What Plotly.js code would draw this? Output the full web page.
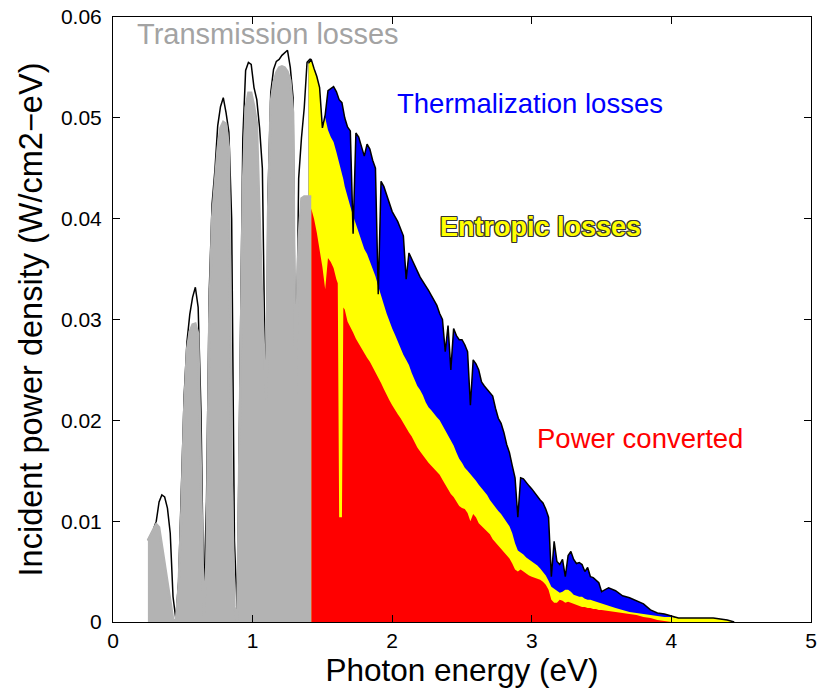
<!DOCTYPE html>
<html><head><meta charset="utf-8">
<script src="https://cdn.plot.ly/plotly-3.0.1.min.js"></script>
<style>html,body{margin:0;padding:0;background:#fff}#chart{width:822px;height:696px}</style>
</head><body><div id="chart"></div>
<script>
// Sub-gap part of the spectrum (photon energy, eV)
const eSub = [0.25,0.27,0.29,0.31,0.33,0.35,0.37,0.39,0.41,0.43,
  0.45,0.47,0.49,0.51,0.53,0.55,0.57,0.59,0.61,0.63,
  0.65,0.67,0.69,0.71,0.73,0.75,0.77,0.79,0.81,0.83,
  0.85,0.87,0.89,0.91,0.93,0.95,0.97,0.99,1.01,1.03,
  1.05,1.07,1.09,1.10,1.11,1.13,1.15,1.17,1.19,1.21,
  1.23,1.25,1.27,1.29,1.30,1.31,1.32,1.33,1.35,1.37,
  1.39,1.41,1.42];
// Incident spectrum (W/cm2-eV) below the gap
const incidentSub = [0.0081,0.0087,0.0092,0.0100,0.0119,0.0126,0.0124,0.0113,0.0088,0.0025,
  0.0003,0.0040,0.0125,0.0225,0.0278,0.0305,0.0322,0.0332,0.0312,0.0210,
  0.0020,0.0120,0.0330,0.0415,0.0448,0.0492,0.0511,0.0520,0.0505,0.0486,
  0.0400,0.0080,0.0010,0.0250,0.0480,0.0547,0.0555,0.0553,0.0530,0.0518,
  0.0490,0.0450,0.0250,0.0225,0.0420,0.0525,0.0548,0.0556,0.0558,0.0562,
  0.0565,0.0567,0.0550,0.0520,0.0350,0.0230,0.0330,0.0440,0.0480,0.0510,
  0.0555,0.0558,0.0558];
// Transmission losses (grey area)
const transmission = [0.0081,0.0087,0.0092,0.0097,0.0094,0.0076,0.0058,0.0040,0.0021,0.0003,
  0.0000,0.0035,0.0110,0.0210,0.0270,0.0288,0.0295,0.0296,0.0286,0.0140,
  0.0005,0.0060,0.0300,0.0400,0.0437,0.0470,0.0490,0.0496,0.0494,0.0470,
  0.0140,0.0015,0.0000,0.0200,0.0430,0.0510,0.0525,0.0525,0.0512,0.0495,
  0.0400,0.0310,0.0240,0.0220,0.0400,0.0515,0.0535,0.0545,0.0550,0.0551,
  0.0550,0.0546,0.0537,0.0505,0.0330,0.0225,0.0320,0.0380,0.0420,0.0422,
  0.0422,0.0422,0.0422];

// Above-gap part
const eAbove = [1.40,1.42,1.44,1.46,1.48,1.50,1.52,1.54,1.56,1.58,
  1.60,1.61,1.62,1.64,1.65,1.66,1.68,1.70,1.72,1.74,1.76,1.78,
  1.80,1.82,1.84,1.86,1.88,1.90,1.92,1.94,1.96,1.98,
  2.00,2.02,2.04,2.06,2.08,2.10,2.12,2.14,2.16,2.18,
  2.20,2.22,2.24,2.26,2.28,2.30,2.32,2.34,2.36,2.38,
  2.40,2.42,2.44,2.46,2.48,2.50,2.52,2.54,2.56,2.58,
  2.60,2.62,2.64,2.66,2.68,2.70,2.72,2.74,2.76,2.78,
  2.80,2.82,2.84,2.86,2.88,2.90,2.92,2.94,2.96,2.98,
  3.00,3.02,3.04,3.06,3.08,3.10,3.12,3.14,3.16,3.18,
  3.20,3.22,3.24,3.26,3.28,3.30,3.32,3.34,3.36,3.38,
  3.40,3.42,3.44,3.46,3.48,3.50,3.55,3.60,3.65,3.70,
  3.75,3.80,3.85,3.90,3.95,4.00,4.05,4.10,4.15,4.20,
  4.25,4.30,4.35,4.40,4.45];
const incidentAbove = [0.0554,0.0558,0.0549,0.0541,0.0530,0.0490,0.0503,0.0527,0.0529,0.0531,
  0.0526,0.0522,0.0518,0.0515,0.0508,0.0500,0.0491,0.0487,0.0385,0.0485,0.0481,0.0472,
  0.0462,0.0474,0.0469,0.0458,0.0450,0.0325,0.0437,0.0432,0.0423,0.0415,
  0.0407,0.0402,0.0397,0.0390,0.0383,0.0340,0.0366,0.0360,0.0353,0.0348,
  0.0342,0.0338,0.0333,0.0329,0.0324,0.0319,0.0314,0.0306,0.0300,0.0268,
  0.0294,0.0250,0.0291,0.0284,0.0280,0.0280,0.0275,0.0268,0.0215,0.0260,
  0.0256,0.0250,0.0238,0.0234,0.0231,0.0228,0.0224,0.0212,0.0202,0.0197,
  0.0188,0.0176,0.0168,0.0155,0.0143,0.0104,0.0143,0.0142,0.0138,0.0135,
  0.0132,0.0128,0.0124,0.0121,0.0118,0.0112,0.0104,0.0045,0.0080,0.0060,
  0.0057,0.0062,0.0045,0.0066,0.0070,0.0062,0.0058,0.0059,0.0057,0.0050,
  0.0054,0.0045,0.0044,0.0041,0.0039,0.0030,0.0034,0.0031,0.0026,0.0024,
  0.0021,0.0018,0.0012,0.0009,0.0008,0.0006,0.0004,0.0004,0.0004,0.0004,
  0.0004,0.0004,0.0003,0.0002,0.0000];
// Upper edge of the entropic-loss band (converted + entropic)
const entropicTop = [0.0554,0.0558,0.0549,0.0541,0.0530,0.0490,0.0500,0.0488,0.0481,0.0476,
  0.0466,0.0461,0.0456,0.0446,0.0439,0.0432,0.0421,0.0412,0.0403,0.0395,0.0386,0.0377,
  0.0370,0.0365,0.0358,0.0351,0.0343,0.0333,0.0323,0.0315,0.0306,0.0298,
  0.0291,0.0285,0.0278,0.0271,0.0265,0.0260,0.0255,0.0247,0.0240,0.0234,
  0.0230,0.0225,0.0218,0.0213,0.0210,0.0206,0.0203,0.0200,0.0195,0.0190,
  0.0185,0.0180,0.0175,0.0168,0.0162,0.0158,0.0153,0.0150,0.0147,0.0143,
  0.0140,0.0136,0.0133,0.0130,0.0126,0.0121,0.0117,0.0114,0.0110,0.0107,
  0.0103,0.0100,0.0095,0.0088,0.0078,0.0071,0.0069,0.0067,0.0064,0.0062,
  0.0060,0.0058,0.0056,0.0053,0.0050,0.0046,0.0041,0.0035,0.0033,0.0031,
  0.0029,0.0030,0.0032,0.0032,0.0030,0.0027,0.0026,0.0025,0.0025,0.0023,
  0.0022,0.0022,0.0021,0.0020,0.0019,0.0018,0.0016,0.0014,0.0012,0.0010,
  0.0009,0.0008,0.0007,0.0006,0.0005,0.0005,0.0004,0.0004,0.0004,0.0004,
  0.0004,0.0004,0.0003,0.0002,0.0000];
// Power converted
const convertedTop = [null,0.0410,0.0400,0.0386,0.0371,0.0352,0.0330,0.0361,0.0357,0.0351,
  0.0340,0.0336,0.0104,0.0104,0.0312,0.0310,0.0298,0.0293,0.0287,0.0281,0.0276,0.0271,
  0.0267,0.0262,0.0258,0.0253,0.0248,0.0243,0.0237,0.0231,0.0225,0.0220,
  0.0215,0.0210,0.0206,0.0202,0.0197,0.0193,0.0188,0.0184,0.0178,0.0173,
  0.0169,0.0165,0.0162,0.0158,0.0155,0.0152,0.0150,0.0146,0.0141,0.0136,
  0.0131,0.0127,0.0124,0.0119,0.0115,0.0113,0.0112,0.0108,0.0100,0.0107,
  0.0104,0.0098,0.0095,0.0092,0.0090,0.0087,0.0082,0.0079,0.0075,0.0072,
  0.0069,0.0066,0.0063,0.0058,0.0052,0.0050,0.0052,0.0050,0.0048,0.0046,
  0.0045,0.0044,0.0043,0.0042,0.0040,0.0037,0.0032,0.0022,0.0019,0.0019,
  0.0022,0.0021,0.0019,0.0020,0.0019,0.0018,0.0017,0.0016,0.0015,0.0015,
  0.0014,0.0014,0.0013,0.0013,0.0012,0.0012,0.0011,0.0010,0.0009,0.0008,
  0.0007,0.0005,0.0004,0.0002,0.0001,0,0,0,0,0,
  0,0,0,0,0];

const xTicks = [0,1,2,3,4,5];
const xTickText = ['0','1','2','3','4','5'];
const yTicks = [0,0.01,0.02,0.03,0.04,0.05,0.06];
const yTickText = ['0','0.01','0.02','0.03','0.04','0.05','0.06'];

const FONT = 'Liberation Sans, Arial, Helvetica, sans-serif';
const GREY = '#b3b3b3';

const traces = [
  {x:eAbove, y:incidentAbove, type:'scatter', mode:'lines', fill:'tozeroy', fillcolor:'#0000ff', line:{width:0,color:'#0000ff'}, hoverinfo:'skip'},
  {x:eAbove, y:entropicTop, type:'scatter', mode:'lines', fill:'tozeroy', fillcolor:'#ffff00', line:{width:0,color:'#ffff00'}, hoverinfo:'skip'},
  {x:eAbove, y:convertedTop, type:'scatter', mode:'lines', fill:'tozeroy', fillcolor:'#ff0000', line:{width:0,color:'#ff0000'}, hoverinfo:'skip'},
  {x:eAbove, y:incidentAbove, type:'scatter', mode:'lines', line:{color:'#000000', width:1.5}, hoverinfo:'skip'},
  {x:eSub, y:incidentSub, type:'scatter', mode:'lines', line:{color:'#000000', width:1.5}, hoverinfo:'skip'},
  {x:eSub, y:transmission, type:'scatter', mode:'lines', fill:'tozeroy', fillcolor:GREY, line:{color:GREY, width:2.5}, hoverinfo:'skip'}
];

const axisCommon = {
  ticks:'inside', ticklen:7, tickwidth:1, tickcolor:'#000',
  showline:true, linecolor:'#000', linewidth:1, mirror:'ticks',
  showgrid:false, zeroline:false, tickfont:{size:21, family:FONT, color:'#000'}
};

const layout = {
  width:822, height:696,
  margin:{l:113, r:11, t:17, b:74},
  paper_bgcolor:'#ffffff', plot_bgcolor:'#ffffff',
  showlegend:false,
  font:{family:FONT, color:'#000'},
  xaxis:Object.assign({}, axisCommon, {
    range:[0,5], tickmode:'array', tickvals:xTicks, ticktext:xTickText,
    title:{text:'Photon energy (eV)', font:{size:31.5, family:FONT, color:'#000'}, standoff:6}
  }),
  yaxis:Object.assign({}, axisCommon, {
    range:[0,0.06], tickmode:'array', tickvals:yTicks, ticktext:yTickText,
    ticklabelstandoff:6,
    title:{text:'Incident power density (W/cm2\u2212eV)', font:{size:32.5, family:FONT, color:'#000'}, standoff:8}
  }),
  annotations:[
    {x:1.108, y:0.0583, xref:'x', yref:'y', text:'Transmission losses', showarrow:false, xanchor:'center', yanchor:'middle', font:{size:29, family:FONT, color:'#a3a3a3'}},
    {x:2.986, y:0.0514, xref:'x', yref:'y', text:'Thermalization losses', showarrow:false, xanchor:'center', yanchor:'middle', font:{size:27.5, family:FONT, color:'#0000ff'}},
    {x:3.061, y:0.0392, xref:'x', yref:'y', text:'Entropic losses', showarrow:false, xanchor:'center', yanchor:'middle', font:{size:27, weight:'bold', family:FONT, color:'#ffff00', shadow:'-1px -1px 0 #333, 1px -1px 0 #333, -1px 1px 0 #333, 1px 1px 0 #333, 0 1px 0 #333, 0 -1px 0 #333, 1px 0 0 #333, -1px 0 0 #333'}},
    {x:3.778, y:0.01815, xref:'x', yref:'y', text:'Power converted', showarrow:false, xanchor:'center', yanchor:'middle', font:{size:27.5, family:FONT, color:'#ff0000'}}
  ]
};

Plotly.newPlot('chart', traces, layout, {staticPlot:true, displayModeBar:false});
</script></body></html>
